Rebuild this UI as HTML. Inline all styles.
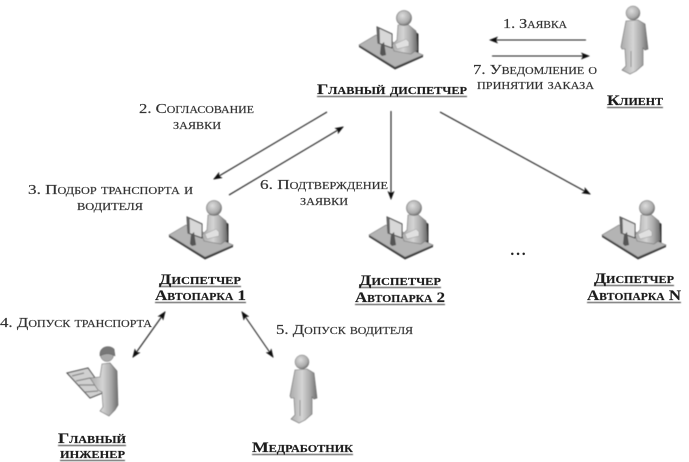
<!DOCTYPE html>
<html><head><meta charset="utf-8"><style>
html,body{margin:0;padding:0;background:#fff;width:689px;height:462px;overflow:hidden}
svg{display:block}
text{font-family:"Liberation Serif","DejaVu Serif",serif;font-variant:small-caps;fill:#333;stroke:#333;stroke-width:.18px;font-size:14px;text-anchor:middle}
.b{font-weight:bold;fill:#1c1c1c;stroke:#1c1c1c;stroke-width:.15px;font-size:14.5px}
</style></head><body>
<svg width="689" height="462" viewBox="0 0 689 462" xmlns="http://www.w3.org/2000/svg">
<defs>
<filter id="s" x="-5%" y="-5%" width="110%" height="110%"><feGaussianBlur stdDeviation="0.4"/></filter>
<filter id="t" x="-5%" y="-5%" width="110%" height="110%"><feGaussianBlur stdDeviation="0.3"/></filter>
<linearGradient id="g" x1="0" y1="0" x2="1" y2="0"><stop offset="0" stop-color="#aaa"/><stop offset=".45" stop-color="#d4d4d4"/><stop offset=".75" stop-color="#a8a8a8"/><stop offset="1" stop-color="#6e6e6e"/></linearGradient>
<radialGradient id="h" cx=".4" cy=".35" r=".7"><stop offset="0" stop-color="#ddd"/><stop offset=".7" stop-color="#aaa"/><stop offset="1" stop-color="#666"/></radialGradient>
<marker id="a" markerWidth="9" markerHeight="7" refX="8" refY="3.5" orient="auto-start-reverse" markerUnits="userSpaceOnUse"><path d="M0 0L9 3.5L0 7L2 3.500Z" fill="#111"/></marker>
<g id="desk">
<path d="M169 235L205 257L233 245L233 247L205 259.500L169 237Z" fill="#3a3a3a"/>
<path d="M169 235L186 225L233 245L205 257Z" fill="#b4b4b4" stroke="#777" stroke-width=".6"/>
<path d="M226 222L228.500 224L228.500 243L225 241Z" fill="#333"/>
<path d="M208 215L218 214.500L226 221L227 240L221 244L204 241L202 235L207 230Z" fill="url(#g)" stroke="#777" stroke-width=".6"/>
<path d="M205 234L216 229L219 232L219 236L207 239Z" fill="#e0e0e0" stroke="#888" stroke-width=".4"/>
<circle cx="214" cy="208" r="7.500" fill="url(#h)" stroke="#666" stroke-width=".6"/>
<path d="M187 217L202 224L202 238L188 233Z" fill="#d8d8d8" stroke="#444" stroke-width="1"/>
<path d="M187 217L189.500 218L190 234L188 233Z" fill="#666"/>
<path d="M190 244L191 235L194 232L196 245L192 246Z" fill="#555"/>
</g>
<g id="man">
<circle cx="302" cy="362" r="7" fill="url(#h)" stroke="#777" stroke-width=".5"/>
<path d="M295 370L307 369L314 373L317 398L314 399L312 397L312 414L305 420L299 423L291 419L295 415L294 398L291 398L290 396Z" fill="url(#g)" stroke="#666" stroke-width=".6"/>
<path d="M300 400L300 416" stroke="#888" stroke-width=".8"/>
</g>
</defs>
<rect width="689" height="462" fill="#fff"/>
<g filter="url(#s)">
<use href="#desk" transform="translate(190,-190)"/>
<use href="#desk"/>
<use href="#desk" transform="translate(200,0)"/>
<use href="#desk" transform="translate(433,0)"/>
<use href="#man" transform="translate(331,-349)"/>
<use href="#man"/>
<!-- engineer -->
<path d="M67 373L88 368L105 392L90 398Z" fill="#d0d0d0" stroke="#444" stroke-width="1"/>
<path d="M72 376L84 373M76 381L90 378M79 385L96 385M85 392L98 391" stroke="#888" stroke-width="1.200" fill="none"/>
<path d="M102 364L110 363L117 371L118 405L115 410L109 416L100 411L103 407L102 392L98 390L90 378L100 377Z" fill="url(#g)" stroke="#666" stroke-width=".6"/>
<circle cx="107" cy="355" r="6.500" fill="#aaa" stroke="#666" stroke-width=".5"/>
<path d="M100 353C101 346 110 345 114 349L115 356C110 353 105 353 100 356Z" fill="#777" stroke="#555" stroke-width=".5"/>
<g stroke="#222" stroke-width="1.100" fill="none">
<line x1="586" y1="40" x2="490" y2="40" marker-end="url(#a)"/>
<line x1="492" y1="56" x2="589" y2="56" marker-end="url(#a)"/>
<line x1="391" y1="111" x2="391" y2="199" marker-end="url(#a)"/>
<line x1="440" y1="112" x2="590" y2="194" marker-end="url(#a)"/>
<line x1="327" y1="112" x2="214" y2="179" marker-end="url(#a)"/>
<line x1="229" y1="195" x2="343" y2="127" marker-end="url(#a)"/>
<line x1="133" y1="357" x2="165" y2="312" marker-start="url(#a)" marker-end="url(#a)"/>
<line x1="242" y1="312" x2="273" y2="357" marker-start="url(#a)" marker-end="url(#a)"/>
</g>
<g stroke="#333" stroke-width="1">
<line x1="317" y1="96.500" x2="467" y2="96.500"/>
<line x1="607" y1="107.500" x2="663" y2="107.500"/>
<line x1="159" y1="286.500" x2="241" y2="286.500"/>
<line x1="155" y1="302.500" x2="246" y2="302.500"/>
<line x1="359" y1="287.500" x2="441" y2="287.500"/>
<line x1="355" y1="304.500" x2="445" y2="304.500"/>
<line x1="594" y1="285.500" x2="674" y2="285.500"/>
<line x1="587" y1="302.500" x2="681" y2="302.500"/>
<line x1="58" y1="445.500" x2="126" y2="445.500"/>
<line x1="60" y1="460.500" x2="125" y2="460.500"/>
<line x1="252" y1="454.500" x2="353" y2="454.500"/>
</g>
</g>
<g filter="url(#t)">
<text x="535" y="28" textLength="64" lengthAdjust="spacingAndGlyphs">1. Заявка</text>
<text x="535" y="74" textLength="124" lengthAdjust="spacingAndGlyphs">7. Уведомление о</text>
<text x="535.500" y="89" textLength="117" lengthAdjust="spacingAndGlyphs">принятии заказа</text>
<text class="b" x="392" y="94" textLength="150" lengthAdjust="spacingAndGlyphs">Главный диспетчер</text>
<text class="b" x="635" y="105" textLength="56" lengthAdjust="spacingAndGlyphs">Клиент</text>
<text x="196.500" y="113" textLength="115" lengthAdjust="spacingAndGlyphs">2. Согласование</text>
<text x="197" y="129" textLength="48" lengthAdjust="spacingAndGlyphs">заявки</text>
<text x="110.500" y="194" textLength="165" lengthAdjust="spacingAndGlyphs">3. Подбор транспорта и</text>
<text x="110" y="210" textLength="66" lengthAdjust="spacingAndGlyphs">водителя</text>
<text x="324" y="189" textLength="128" lengthAdjust="spacingAndGlyphs">6. Подтверждение</text>
<text x="324" y="205" textLength="48" lengthAdjust="spacingAndGlyphs">заявки</text>
<text class="b" x="200" y="284" textLength="82" lengthAdjust="spacingAndGlyphs">Диспетчер</text>
<text class="b" x="200.500" y="300" textLength="91" lengthAdjust="spacingAndGlyphs">Автопарка 1</text>
<text class="b" x="400" y="285" textLength="82" lengthAdjust="spacingAndGlyphs">Диспетчер</text>
<text class="b" x="400" y="302" textLength="90" lengthAdjust="spacingAndGlyphs">Автопарка 2</text>
<text class="b" x="634" y="283" textLength="80" lengthAdjust="spacingAndGlyphs">Диспетчер</text>
<text class="b" x="634" y="300" textLength="94" lengthAdjust="spacingAndGlyphs">Автопарка N</text>
<text class="b" x="518" y="255" textLength="15" lengthAdjust="spacing">...</text>
<text x="76" y="327" textLength="152" lengthAdjust="spacingAndGlyphs">4. Допуск транспорта</text>
<text x="344.500" y="334" textLength="137" lengthAdjust="spacingAndGlyphs">5. Допуск водителя</text>
<text class="b" x="92" y="443" textLength="68" lengthAdjust="spacingAndGlyphs">Главный</text>
<text class="b" x="92.500" y="458" textLength="65" lengthAdjust="spacingAndGlyphs">инженер</text>
<text class="b" x="302.500" y="452" textLength="101" lengthAdjust="spacingAndGlyphs">Медработник</text>
</g>
</svg>
</body></html>
